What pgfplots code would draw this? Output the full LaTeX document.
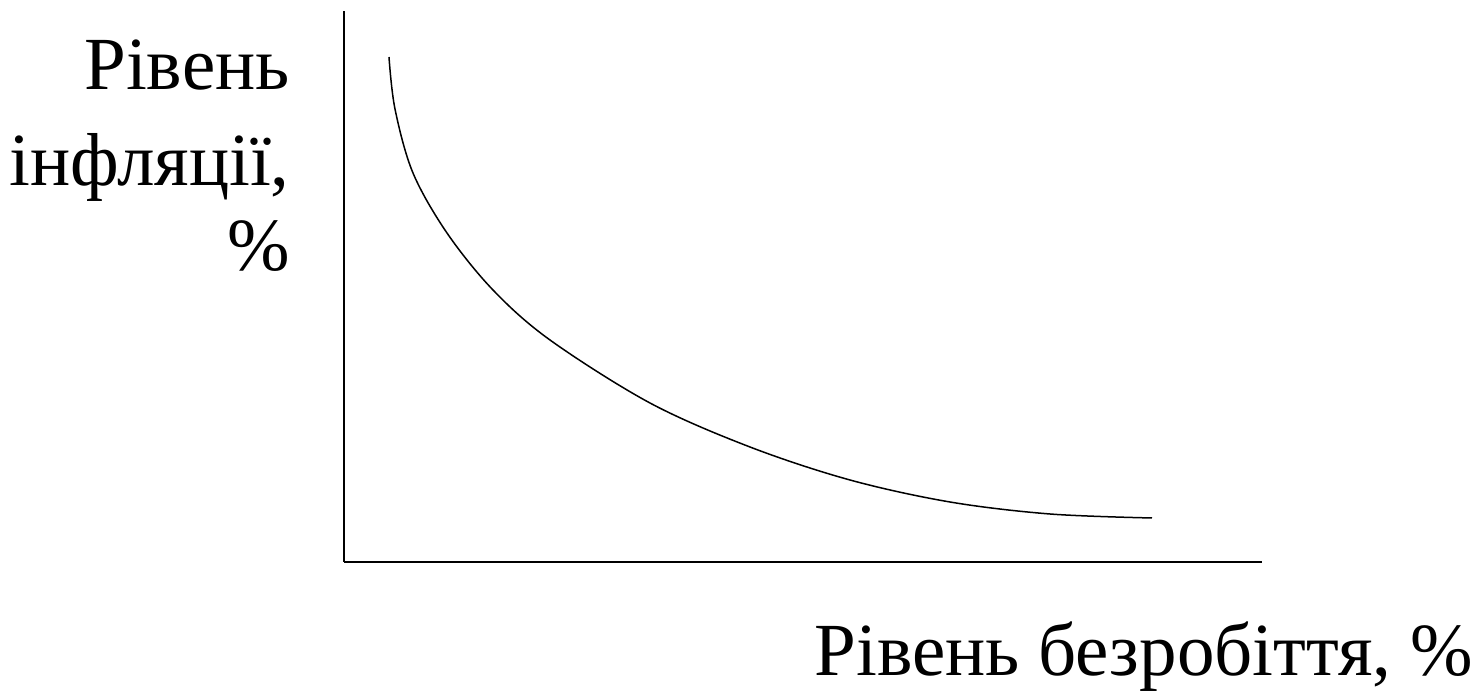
\documentclass[border=0pt]{standalone}
\usepackage{fontspec}
\setmainfont{Liberation Serif}
\usepackage{pgfplots}
\pgfplotsset{compat=1.18}
\begin{document}
\begin{tikzpicture}
\begin{axis}[
  scale only axis,
  width=459pt, height=275.5pt,
  xmin=344, xmax=1262, ymin=132, ymax=683,
  axis lines=left,
  axis line style={-, line width=1pt, black},
  xtick=\empty, ytick=\empty,
  clip=false,
]
\addplot[black, line width=0.75pt, smooth, tension=0.55] coordinates {
(389,637) (395,585) (413,521) (447,461) (493,404) (550,354) (650,291)
(750,247) (850,214) (950,192) (1050,180) (1152,176)
};
\path (axis cs:0,0) rectangle (axis cs:1480,694);
\node[anchor=base east, inner sep=0pt, font=\fontsize{37.5}{45}\selectfont] at (axis cs:290,604) {Рівень};
\node[anchor=base east, inner sep=0pt, font=\fontsize{37.5}{45}\selectfont] at (axis cs:290,508) {інфляції,};
\node[anchor=base east, inner sep=0pt, font=\fontsize{37.5}{45}\selectfont] at (axis cs:290,423) {\%};
\node[anchor=base east, inner sep=0pt, font=\fontsize{37.5}{45}\selectfont] at (axis cs:1473,18) {Рівень безробіття, \%};
\end{axis}
\end{tikzpicture}
\end{document}
